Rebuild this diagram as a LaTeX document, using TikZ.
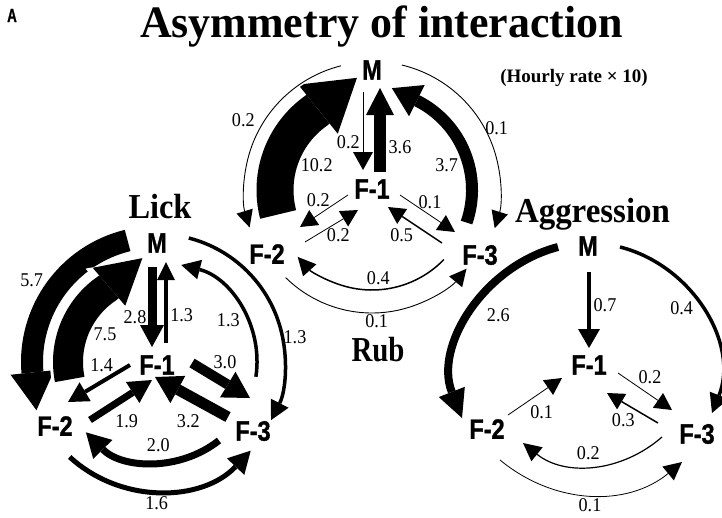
\documentclass[tikz,border=0pt]{standalone}
\usepackage{fontspec}
\setmainfont{Liberation Serif}
\newfontfamily\hvfont{Liberation Sans}[BoldFeatures={FakeBold=1.2}]
\usetikzlibrary{arrows.meta,calc}
\newcommand{\vlab}[1]{\scalebox{0.84}[1]{\hvfont\bfseries\fontsize{28}{28}\selectfont #1}}
\newcommand{\nlab}[1]{\scalebox{0.93}[1]{\fontsize{19.5}{19.5}\selectfont #1}}
\newcommand{\tlab}[2]{\resizebox{#1}{\height}{\bfseries\fontsize{35}{35}\selectfont #2}}
\tikzset{
  vx/.style={inner sep=0pt},
  num/.style={inner sep=0pt},
  ttl/.style={inner sep=0pt, anchor=base},
  hd/.style 2 args={-{Triangle[length=#1pt,width=#2pt,line width=0pt]}},
  halo/.style={preaction={draw=white,line width=#1}},
}
\begin{document}
\begin{tikzpicture}[x=1pt,y=-1pt]
\useasboundingbox (0,0) rectangle (722,517);

% ---------- titles ----------
\node[ttl,anchor=base west] (lblA) at (7,22) {\scalebox{0.7}[1]{\hvfont\bfseries\fontsize{19}{19}\selectfont A}};
\node[ttl] (title) at (381.5,37) {\resizebox{483pt}{\height}{\bfseries\fontsize{45}{45}\selectfont Asymmetry of interaction}};
\node[ttl] (hourly) at (574,82) {\bfseries\fontsize{19}{19}\selectfont (Hourly rate × 10)};
\node[ttl] (tLick) at (160,218.5) {\tlab{63pt}{Lick}};
\node[ttl] (tAgg) at (592.5,222) {\tlab{155pt}{Aggression}};
\node[ttl] (tRub) at (378,361) {\tlab{53pt}{Rub}};

% ---------- Rub ----------
\node[vx] (rM)  at (372,70)  {\vlab{M}};
\node[vx] (rF1) at (372,189) {\vlab{F-1}};
\node[vx] (rF2) at (267,254) {\vlab{F-2}};
\node[vx] (rF3) at (480,255) {\vlab{F-3}};
\coordinate (rc) at (372,190);

\draw[line width=37pt, hd={50}{63}] ([shift={(-194.6:97)}]rc) arc[start angle=-194.6,end angle=-125.3,radius=97] -- ++(41,-33);
\draw[line width=12pt, hd={28}{35}] ([shift={(19:100)}]rc) arc[start angle=19,end angle=-62.7,radius=100] -- ++(-26,-13);
\draw[line width=0.9pt, hd={17}{17}, halo=4pt] ([shift={(-104:128)}]rc) arc[start angle=-104,end angle=-197,radius=128];
\draw[line width=0.9pt, hd={17}{17}] ([shift={(-76.6:128.5)}]rc) arc[start angle=-76.6,end angle=17.3,radius=128.5];
\draw[line width=0.9pt, hd={17}{17}] ([shift={(134.6:123)}]rc) arc[start angle=134.6,end angle=39.8,radius=123];
\draw[line width=1.5pt, hd={18}{18}] ([shift={(44:100)}]rc) arc[start angle=44,end angle=138,radius=100];

\draw[line width=1pt, hd={18}{20}] ($(rM)+(-9,22)$) -- ($(rF1)+(-9,-19)$);
\draw[line width=12pt, hd={27}{28}] ($(rF1)+(8,-17)$) -- ($(rM)+(8,18)$);
\draw[line width=0.8pt, hd={17}{18}] ($(rF1)+(-24,6)$) -- ($(rF2)+(33,-27)$);
\draw[line width=0.8pt, hd={17}{18}] ($(rF2)+(38,-12)$) -- ($(rF1)+(-14,21)$);
\draw[line width=0.8pt, hd={17}{18}] ($(rF1)+(28,6)$) -- ($(rF3)+(-25,-23)$);
\draw[line width=1.5pt, hd={17}{18}] ($(rF3)+(-38,-12)$) -- ($(rF1)+(16,18)$);

\node[num] (rn1) at (348.3,141.7) {\nlab{0.2}};
\node[num] (rn2) at (400,146.7) {\nlab{3.6}};
\node[num] (rn3) at (316.7,165) {\nlab{10.2}};
\node[num] (rn4) at (446.7,165) {\nlab{3.7}};
\node[num] (rn5) at (243.3,120) {\nlab{0.2}};
\node[num] (rn6) at (496.7,128.3) {\nlab{0.1}};
\node[num] (rn7) at (318.3,200) {\nlab{0.2}};
\node[num] (rn8) at (338.3,235) {\nlab{0.2}};
\node[num] (rn9) at (430,201.7) {\nlab{0.1}};
\node[num] (rn10) at (401.7,235) {\nlab{0.5}};
\node[num] (rn11) at (378.3,278.3) {\nlab{0.4}};
\node[num] (rn12) at (376.7,321) {\nlab{0.1}};

% ---------- Lick ----------
\node[vx] (lM)  at (157,243) {\vlab{M}};
\node[vx] (lF1) at (157,365) {\vlab{F-1}};
\node[vx] (lF2) at (55,426)  {\vlab{F-2}};
\node[vx] (lF3) at (253,431) {\vlab{F-3}};
\coordinate (lc) at (157,362);

\draw[line width=22pt, hd={38}{44}] ([shift={(-103.6:125)}]lc) arc[start angle=-103.6,end angle=-184.7,radius=125] -- ++(4,38);
\draw[line width=30pt, hd={44}{50},
      preaction={draw=white,line width=36pt,-{Triangle[length=50pt,width=58pt,line width=0pt]}}]
      ([shift={(-191.3:89)}]lc) arc[start angle=-191.3,end angle=-123.9,radius=89] -- ++(35,-30);
\draw[line width=3.5pt, hd={19}{20}] ([shift={(-75.6:128)}]lc) arc[start angle=-75.6,end angle=27,radius=128];
\draw[line width=3.5pt, hd={19}{20}] ([shift={(8.5:100)}]lc) arc[start angle=8.5,end angle=-76,radius=100];
\draw[line width=5pt, hd={22}{24}] ([shift={(132.6:129)}]lc) arc[start angle=132.6,end angle=43.4,radius=129];
\draw[line width=7pt, hd={24}{27}] ([shift={(51.7:100)}]lc) arc[start angle=51.7,end angle=135.3,radius=100];

\draw[line width=9pt, hd={22}{24}] ($(lM)+(-5,24)$) -- ($(lF1)+(-5,-18)$);
\draw[line width=3.5pt, hd={18}{18}] ($(lF1)+(9,-22)$) -- ($(lM)+(9,19)$);
\draw[line width=10pt, hd={26}{30}] ($(lF1)+(35,-2)$) -- ($(lF3)+(-3,-33)$);
\draw[line width=11pt, hd={26}{31}] ($(lF3)+(-25,-14)$) -- ($(lF1)+(-2,12)$);
\draw[line width=4pt, hd={20}{22}] ($(lF1)+(-27,0)$) -- ($(lF2)+(13,-24)$);
\draw[line width=7pt, hd={23}{25}] ($(lF2)+(35,-6)$) -- ($(lF1)+(-5,15)$);

\node[num] (ln1) at (135,316.7) {\nlab{2.8}};
\node[num] (ln2) at (181.7,315) {\nlab{1.3}};
\node[num] (ln3) at (31.7,280) {\nlab{5.7}};
\node[num] (ln4) at (105,334) {\nlab{7.5}};
\node[num] (ln5) at (228.3,320) {\nlab{1.3}};
\node[num] (ln6) at (295,336.7) {\nlab{1.3}};
\node[num] (ln7) at (225,361.7) {\nlab{3.0}};
\node[num] (ln8) at (188.3,420.7) {\nlab{3.2}};
\node[num] (ln9) at (101.7,365) {\nlab{1.4}};
\node[num] (ln10) at (126.7,420.7) {\nlab{1.9}};
\node[num] (ln11) at (158.3,445) {\nlab{2.0}};
\node[num] (ln12) at (156.7,503) {\nlab{1.6}};

% ---------- Aggression ----------
\node[vx] (aM)  at (588,246) {\vlab{M}};
\node[vx] (aF1) at (589,365) {\vlab{F-1}};
\node[vx] (aF2) at (487,429) {\vlab{F-2}};
\node[vx] (aF3) at (697,434) {\vlab{F-3}};

\draw[line width=3.5pt, hd={19}{22}] ($(aM)+(1,26)$) -- ($(aF1)+(0,-17)$);
\draw[line width=8pt, hd={28}{28}] ($(aM)+(-30,1)$) .. controls +(-74.5,19.4) and +(-28.1,-71.7) .. ($(aF2)+(-25,-11)$);
\draw[line width=3.5pt, hd={19}{20}] ($(aM)+(32,1)$) .. controls +(72.3,18.3) and +(27.6,-69.3) .. ($(aF3)+(15,-21)$);
\draw[line width=1.2pt, hd={18}{18}] ($(aF3)+(-35,3)$) .. controls +(-40.7,35.5) and +(42.1,33.9) .. ($(aF2)+(36,14)$);
\draw[line width=0.8pt, hd={18}{18}] ($(aF2)+(13,31)$) .. controls +(54.8,45.2) and +(-54.7,45.2) .. ($(aF3)+(-15,28)$);
\draw[line width=0.8pt, hd={17}{18}] ($(aF2)+(21,-14)$) -- ($(aF1)+(-27,13)$);
\draw[line width=0.8pt, hd={17}{18}] ($(aF1)+(29,8)$) -- ($(aF3)+(-25,-24)$);
\draw[line width=1.5pt, hd={17}{18}] ($(aF3)+(-39,-11)$) -- ($(aF1)+(18,28)$);

\node[num] (an1) at (605,305) {\nlab{0.7}};
\node[num] (an2) at (498.3,315) {\nlab{2.6}};
\node[num] (an3) at (681.7,308.3) {\nlab{0.4}};
\node[num] (an4) at (541.7,411.7) {\nlab{0.1}};
\node[num] (an5) at (650,376.7) {\nlab{0.2}};
\node[num] (an6) at (623.3,420) {\nlab{0.3}};
\node[num] (an7) at (588.3,453.3) {\nlab{0.2}};
\node[num] (an8) at (590,505.5) {\nlab{0.1}};
\end{tikzpicture}
\end{document}
